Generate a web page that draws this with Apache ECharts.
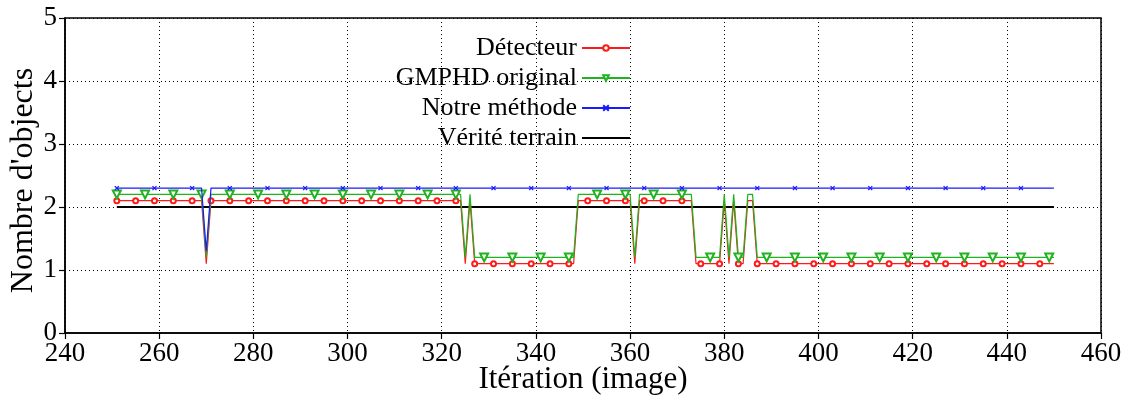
<!DOCTYPE html>
<html>
<head>
<meta charset="utf-8">
<script src="https://cdn.jsdelivr.net/npm/echarts@6/dist/echarts.min.js"></script>
<style>html,body{margin:0;padding:0;background:#fff}#c{width:1136px;height:398px}</style>
</head>
<body>
<div id="c"></div>
<script>
// Frames 251..450
const firstFrame = 251;
const xTicks = [240, 260, 280, 300, 320, 340, 360, 380, 400, 420, 440, 460];
const yTicks = [0, 1, 2, 3, 4, 5];
const seriesNames = ['Détecteur', 'GMPHD original', 'Notre méthode', 'Vérité terrain'];

const detecteur = [
  2.1,2.1,2.1,2.1,2.1,2.1,2.1,2.1,2.1,2.1, // 251-260
  2.1,2.1,2.1,2.1,2.1,2.1,2.1,2.1,2.1,1.1, // 261-270
  2.1,2.1,2.1,2.1,2.1,2.1,2.1,2.1,2.1,2.1, // 271-280
  2.1,2.1,2.1,2.1,2.1,2.1,2.1,2.1,2.1,2.1, // 281-290
  2.1,2.1,2.1,2.1,2.1,2.1,2.1,2.1,2.1,2.1, // 291-300
  2.1,2.1,2.1,2.1,2.1,2.1,2.1,2.1,2.1,2.1, // 301-310
  2.1,2.1,2.1,2.1,2.1,2.1,2.1,2.1,2.1,2.1, // 311-320
  2.1,2.1,2.1,2.1,1.1,2.1,1.1,1.1,1.1,1.1, // 321-330
  1.1,1.1,1.1,1.1,1.1,1.1,1.1,1.1,1.1,1.1, // 331-340
  1.1,1.1,1.1,1.1,1.1,1.1,1.1,1.1,2.1,2.1, // 341-350
  2.1,2.1,2.1,2.1,2.1,2.1,2.1,2.1,2.1,2.1, // 351-360
  1.1,2.1,2.1,2.1,2.1,2.1,2.1,2.1,2.1,2.1, // 361-370
  2.1,2.1,2.1,1.1,1.1,1.1,1.1,1.1,1.1,2.1, // 371-380
  1.1,2.1,1.1,1.1,2.1,2.1,1.1,1.1,1.1,1.1, // 381-390
  1.1,1.1,1.1,1.1,1.1,1.1,1.1,1.1,1.1,1.1, // 391-400
  1.1,1.1,1.1,1.1,1.1,1.1,1.1,1.1,1.1,1.1, // 401-410
  1.1,1.1,1.1,1.1,1.1,1.1,1.1,1.1,1.1,1.1, // 411-420
  1.1,1.1,1.1,1.1,1.1,1.1,1.1,1.1,1.1,1.1, // 421-430
  1.1,1.1,1.1,1.1,1.1,1.1,1.1,1.1,1.1,1.1, // 431-440
  1.1,1.1,1.1,1.1,1.1,1.1,1.1,1.1,1.1,1.1  // 441-450
];
const gmphd = [
  2.2,2.2,2.2,2.2,2.2,2.2,2.2,2.2,2.2,2.2,
  2.2,2.2,2.2,2.2,2.2,2.2,2.2,2.2,2.2,1.2,
  2.2,2.2,2.2,2.2,2.2,2.2,2.2,2.2,2.2,2.2,
  2.2,2.2,2.2,2.2,2.2,2.2,2.2,2.2,2.2,2.2,
  2.2,2.2,2.2,2.2,2.2,2.2,2.2,2.2,2.2,2.2,
  2.2,2.2,2.2,2.2,2.2,2.2,2.2,2.2,2.2,2.2,
  2.2,2.2,2.2,2.2,2.2,2.2,2.2,2.2,2.2,2.2,
  2.2,2.2,2.2,2.2,1.2,2.2,1.2,1.2,1.2,1.2,
  1.2,1.2,1.2,1.2,1.2,1.2,1.2,1.2,1.2,1.2,
  1.2,1.2,1.2,1.2,1.2,1.2,1.2,1.2,2.2,2.2,
  2.2,2.2,2.2,2.2,2.2,2.2,2.2,2.2,2.2,2.2,
  1.2,2.2,2.2,2.2,2.2,2.2,2.2,2.2,2.2,2.2,
  2.2,2.2,2.2,1.2,1.2,1.2,1.2,1.2,1.2,2.2,
  1.2,2.2,1.2,1.2,2.2,2.2,1.2,1.2,1.2,1.2,
  1.2,1.2,1.2,1.2,1.2,1.2,1.2,1.2,1.2,1.2,
  1.2,1.2,1.2,1.2,1.2,1.2,1.2,1.2,1.2,1.2,
  1.2,1.2,1.2,1.2,1.2,1.2,1.2,1.2,1.2,1.2,
  1.2,1.2,1.2,1.2,1.2,1.2,1.2,1.2,1.2,1.2,
  1.2,1.2,1.2,1.2,1.2,1.2,1.2,1.2,1.2,1.2,
  1.2,1.2,1.2,1.2,1.2,1.2,1.2,1.2,1.2,1.2
];
const notreMethode = [
  2.3,2.3,2.3,2.3,2.3,2.3,2.3,2.3,2.3,2.3,
  2.3,2.3,2.3,2.3,2.3,2.3,2.3,2.3,2.3,1.3,
  2.3,2.3,2.3,2.3,2.3,2.3,2.3,2.3,2.3,2.3,
  2.3,2.3,2.3,2.3,2.3,2.3,2.3,2.3,2.3,2.3,
  2.3,2.3,2.3,2.3,2.3,2.3,2.3,2.3,2.3,2.3,
  2.3,2.3,2.3,2.3,2.3,2.3,2.3,2.3,2.3,2.3,
  2.3,2.3,2.3,2.3,2.3,2.3,2.3,2.3,2.3,2.3,
  2.3,2.3,2.3,2.3,2.3,2.3,2.3,2.3,2.3,2.3,
  2.3,2.3,2.3,2.3,2.3,2.3,2.3,2.3,2.3,2.3,
  2.3,2.3,2.3,2.3,2.3,2.3,2.3,2.3,2.3,2.3,
  2.3,2.3,2.3,2.3,2.3,2.3,2.3,2.3,2.3,2.3,
  2.3,2.3,2.3,2.3,2.3,2.3,2.3,2.3,2.3,2.3,
  2.3,2.3,2.3,2.3,2.3,2.3,2.3,2.3,2.3,2.3,
  2.3,2.3,2.3,2.3,2.3,2.3,2.3,2.3,2.3,2.3,
  2.3,2.3,2.3,2.3,2.3,2.3,2.3,2.3,2.3,2.3,
  2.3,2.3,2.3,2.3,2.3,2.3,2.3,2.3,2.3,2.3,
  2.3,2.3,2.3,2.3,2.3,2.3,2.3,2.3,2.3,2.3,
  2.3,2.3,2.3,2.3,2.3,2.3,2.3,2.3,2.3,2.3,
  2.3,2.3,2.3,2.3,2.3,2.3,2.3,2.3,2.3,2.3,
  2.3,2.3,2.3,2.3,2.3,2.3,2.3,2.3,2.3,2.3
];
const veriteTerrain = [
  2,2,2,2,2,2,2,2,2,2, 2,2,2,2,2,2,2,2,2,2,
  2,2,2,2,2,2,2,2,2,2, 2,2,2,2,2,2,2,2,2,2,
  2,2,2,2,2,2,2,2,2,2, 2,2,2,2,2,2,2,2,2,2,
  2,2,2,2,2,2,2,2,2,2, 2,2,2,2,2,2,2,2,2,2,
  2,2,2,2,2,2,2,2,2,2, 2,2,2,2,2,2,2,2,2,2,
  2,2,2,2,2,2,2,2,2,2, 2,2,2,2,2,2,2,2,2,2,
  2,2,2,2,2,2,2,2,2,2, 2,2,2,2,2,2,2,2,2,2,
  2,2,2,2,2,2,2,2,2,2, 2,2,2,2,2,2,2,2,2,2,
  2,2,2,2,2,2,2,2,2,2, 2,2,2,2,2,2,2,2,2,2,
  2,2,2,2,2,2,2,2,2,2, 2,2,2,2,2,2,2,2,2,2
];

function pairs(vals) { return vals.map((v, i) => [firstFrame + i, v]); }
const FONT = 'Liberation Serif';
const chart = echarts.init(document.getElementById('c'), null, {renderer: 'canvas'});

function markEvery(n, size) {
  return function (val, params) { return params.dataIndex % n === 0 ? size : 0; };
}

chart.setOption({
  animation: false,
  backgroundColor: '#fff',
  textStyle: {fontFamily: FONT},
  grid: {left: 65, right: 35, top: 18, bottom: 65, containLabel: false, outerBoundsMode: 'none',
         show: true, borderColor: '#000', borderWidth: 1.5, backgroundColor: 'transparent'},
  legend: {
    orient: 'vertical', align: 'right', right: 505, top: 35,
    padding: 0, itemGap: 4, itemWidth: 48, itemHeight: 7,
    textStyle: {fontFamily: FONT, fontSize: 26, color: '#000'},
    data: [
      {name: seriesNames[0]},
      {name: seriesNames[1]},
      {name: seriesNames[2]},
      {name: seriesNames[3], itemStyle: {opacity: 0}}
    ]
  },
  xAxis: {
    type: 'value', min: xTicks[0], max: xTicks[xTicks.length - 1], interval: 20,
    name: 'Itération (image)', nameLocation: 'middle', nameGap: 31, nameMoveOverlap: false,
    nameTextStyle: {fontFamily: FONT, fontSize: 31, color: '#000'},
    axisLine: {show: true, onZero: false, lineStyle: {color: '#000', width: 1.5}},
    axisTick: {show: true, inside: false, length: 6, lineStyle: {color: '#000', width: 1.2}},
    axisLabel: {fontFamily: FONT, fontSize: 27, color: '#000', margin: 7},
    splitLine: {show: true, lineStyle: {color: '#000', width: 1, type: [1, 3]}}
  },
  yAxis: {
    type: 'value', min: yTicks[0], max: yTicks[yTicks.length - 1], interval: 1,
    name: "Nombre d'objects", nameLocation: 'middle', nameGap: 25, nameMoveOverlap: false,
    nameTextStyle: {fontFamily: FONT, fontSize: 32, color: '#000', padding: [0, 10, 0, 0]},
    axisLine: {show: true, lineStyle: {color: '#000', width: 1.5}},
    axisTick: {show: true, inside: false, length: 6, lineStyle: {color: '#000', width: 1.2}},
    axisLabel: {fontFamily: FONT, fontSize: 27, color: '#000', margin: 8},
    splitLine: {show: true, lineStyle: {color: '#000', width: 1, type: [1, 3]}}
  },
  series: [
    {
      name: seriesNames[0], type: 'line', data: pairs(detecteur), z: 4,
      symbol: 'emptyCircle', symbolSize: markEvery(4, 5), showAllSymbol: true,
      color: '#ff1a1a', lineStyle: {color: '#ff1a1a', width: 1.2},
      itemStyle: {color: '#ff1a1a', borderWidth: 1.2}
    },
    {
      name: seriesNames[1], type: 'line', data: pairs(gmphd), z: 5,
      symbol: 'emptyTriangle', symbolRotate: 180, symbolSize: markEvery(6, 8), showAllSymbol: true,
      color: '#1fb31f', lineStyle: {color: '#1fb31f', width: 1.2},
      itemStyle: {color: '#1fb31f', borderWidth: 1.3}
    },
    {
      name: seriesNames[2], type: 'line', data: pairs(notreMethode), z: 6,
      symbol: 'path://M0,0L10,10M10,0L0,10', symbolSize: markEvery(8, 4), showAllSymbol: true,
      color: '#1a1aff', lineStyle: {color: '#1a1aff', width: 1.2},
      itemStyle: {color: '#1a1aff', borderColor: '#1a1aff', borderWidth: 1.3}
    },
    {
      name: seriesNames[3], type: 'line', data: pairs(veriteTerrain), z: 3,
      symbol: 'none', showSymbol: false,
      color: '#000', lineStyle: {color: '#000', width: 2}
    }
  ]
});
</script>
</body>
</html>
